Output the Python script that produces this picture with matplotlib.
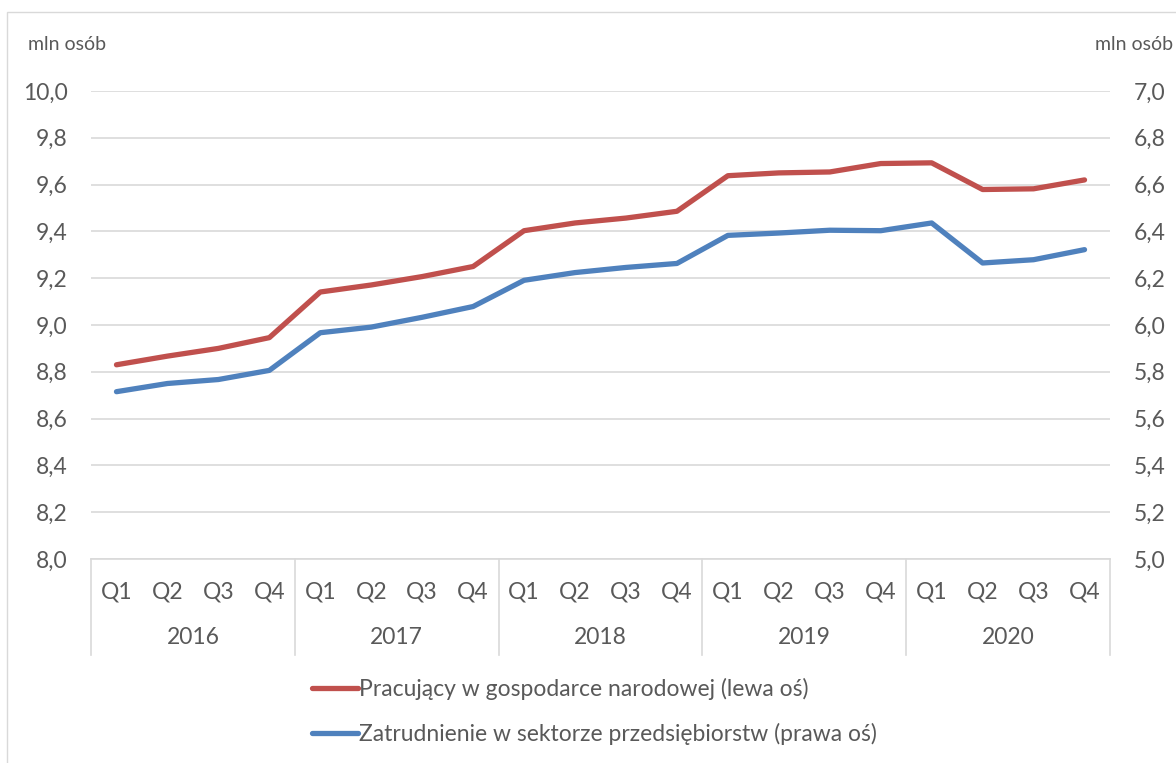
import matplotlib.pyplot as plt
import numpy as np
from matplotlib.patches import Rectangle
from matplotlib.ticker import FuncFormatter

# kwartalne dane 2016-2020
years = ["2016", "2017", "2018", "2019", "2020"]
quarters = ["Q1", "Q2", "Q3", "Q4"]
pracujacy = [8.83, 8.867, 8.90, 8.946, 9.141, 9.171, 9.207, 9.25, 9.403, 9.436,
             9.457, 9.486, 9.638, 9.65, 9.654, 9.69, 9.693, 9.579, 9.582, 9.62]
zatrudnienie = [5.715, 5.750, 5.767, 5.806, 5.967, 5.991, 6.033, 6.079, 6.191, 6.224,
                6.246, 6.263, 6.383, 6.393, 6.405, 6.403, 6.436, 6.265, 6.279, 6.322]
label_red = "Pracujący w gospodarce narodowej (lewa oś)"
label_blue = "Zatrudnienie w sektorze przedsiębiorstw (prawa oś)"

plt.rcParams['font.family'] = ['Lato', 'DejaVu Sans']
txt = '#595959'
grid_c = '#d9d9d9'
red = '#C0504D'
blue = '#4F81BD'
fs = 16.5

fig = plt.figure(figsize=(11.76, 7.63), dpi=100)
ax = fig.add_axes([91/1176, 1 - 559/763, (1110 - 91)/1176, (559 - 91)/763])
ax2 = ax.twinx()

# ramka wykresu
fig.patches.append(Rectangle((7/1176, -0.1), 1.2, 1.1 - 12/763, transform=fig.transFigure,
                             fill=False, edgecolor=grid_c, lw=1))

x = np.arange(len(pracujacy))
l1, = ax.plot(x, pracujacy, color=red, lw=3.8, solid_capstyle='round', solid_joinstyle='round')
l2, = ax2.plot(x, zatrudnienie, color=blue, lw=3.8, solid_capstyle='round', solid_joinstyle='round')

comma = FuncFormatter(lambda v, p: f"{v:.1f}".replace('.', ','))
ax.set_ylim(8.0, 10.0)
ax.set_yticks(np.arange(8.0, 10.01, 0.2))
ax.yaxis.set_major_formatter(comma)
ax2.set_ylim(5.0, 7.0)
ax2.set_yticks(np.arange(5.0, 7.01, 0.2))
ax2.yaxis.set_major_formatter(comma)
ax.yaxis.grid(True, color=grid_c, lw=1.2)
ax.set_axisbelow(True)

ax.set_xlim(-0.5, len(x) - 0.5)
ax.set_xticks(x)
ax.set_xticklabels(quarters * len(years))

for a in (ax, ax2):
    for s in a.spines.values():
        s.set_visible(False)
    a.tick_params(length=0, labelsize=fs, labelcolor=txt)
ax.tick_params(axis='y', pad=17)
ax2.tick_params(axis='y', pad=17)
ax.tick_params(axis='x', pad=16)

# podział osi kategorii na lata
trans = ax.get_xaxis_transform()
ax.plot([-0.5, len(x) - 0.5], [0, 0], transform=trans, color=grid_c, lw=1.2, clip_on=False)
for i in range(len(years) + 1):
    xb = i * 4 - 0.5
    ax.plot([xb, xb], [0, -96/468], transform=trans, color=grid_c, lw=1.2, clip_on=False)
for i, yr in enumerate(years):
    ax.text(i * 4 + 1.5, -79/468, yr, transform=trans, ha='center', va='center',
            fontsize=fs, color=txt)

fig.text(28/1176, 1 - 45/763, "mln osób", fontsize=14, color=txt, ha='left', va='center')
fig.text(1173/1176, 1 - 45/763, "mln osób", fontsize=14, color=txt, ha='right', va='center')

fig.legend([l1, l2], [label_red, label_blue], loc='upper left',
           bbox_to_anchor=(312/1176, 1 - 678/763), frameon=False, fontsize=fs,
           labelcolor=txt, handlelength=2.0, handletextpad=0.05, labelspacing=1.0,
           borderpad=0, borderaxespad=0)

fig.savefig('out.png', dpi=100)
